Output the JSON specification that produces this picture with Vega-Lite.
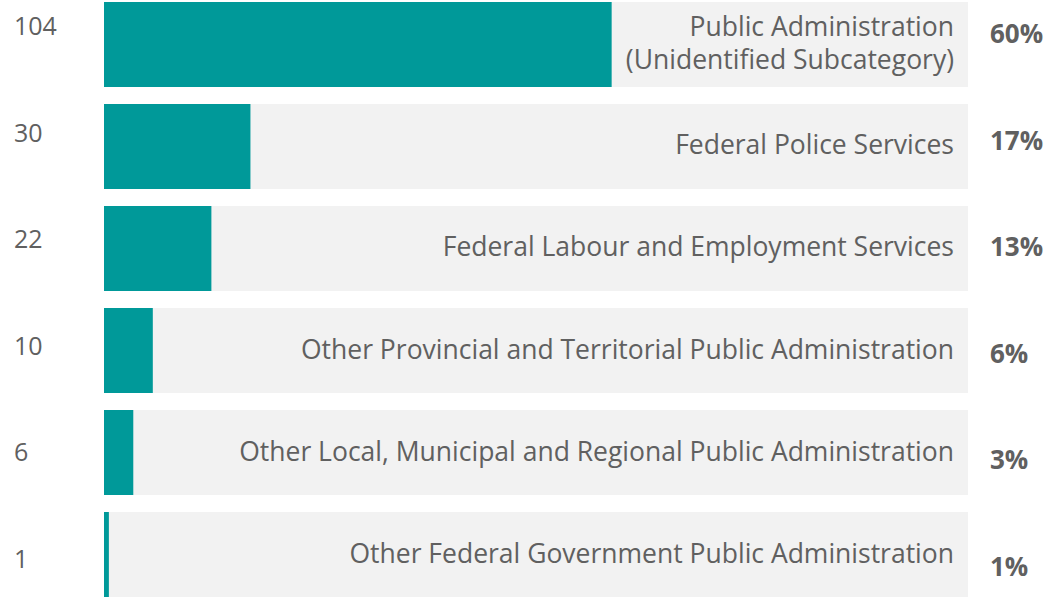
{
  "$schema": "https://vega.github.io/schema/vega-lite/v6.json",
  "width": 1060,
  "height": 601,
  "autosize": "none",
  "padding": 0,
  "background": "white",
  "config": {"view": {"stroke": null}, "font": "Open Sans"},
  "data": {
    "values": [
      {"category": "Public Administration\n(Unidentified Subcategory)", "count": 104, "pct": "60%", "lines": 2},
      {"category": "Federal Police Services", "count": 30, "pct": "17%", "lines": 1},
      {"category": "Federal Labour and Employment Services", "count": 22, "pct": "13%", "lines": 1},
      {"category": "Other Provincial and Territorial Public Administration", "count": 10, "pct": "6%", "lines": 1},
      {"category": "Other Local, Municipal and Regional Public Administration", "count": 6, "pct": "3%", "lines": 1},
      {"category": "Other Federal Government Public Administration", "count": 1, "pct": "1%", "lines": 1}
    ]
  },
  "resolve": {"scale": {"y": "independent"}, "axis": {"y": "independent"}},
  "layer": [
    {
      "mark": {"type": "bar", "color": "#f2f2f2"},
      "encoding": {
        "y": {"field": "category", "type": "nominal", "sort": null, "axis": null,
              "scale": {"type": "band", "range": [2, 597], "paddingInner": 0.1667, "paddingOuter": 0}},
        "x": {"datum": 177, "type": "quantitative", "axis": null,
              "scale": {"domain": [0, 177], "range": [104, 968], "nice": false, "zero": true}}
      }
    },
    {
      "mark": {"type": "bar", "color": "#009999"},
      "encoding": {
        "y": {"field": "category", "type": "nominal", "sort": null, "axis": null,
              "scale": {"type": "band", "range": [2, 597], "paddingInner": 0.1667, "paddingOuter": 0}},
        "x": {"field": "count", "type": "quantitative", "axis": null}
      }
    },
    {
      "transform": [{"filter": "datum.lines == 1"}],
      "mark": {"type": "text", "align": "right", "baseline": "middle", "dx": -14, "fontSize": 26.5, "color": "#606060"},
      "encoding": {
        "y": {"field": "category", "type": "nominal", "sort": null, "axis": null,
              "scale": {"type": "band", "range": [2, 597], "paddingInner": 0.1667, "paddingOuter": 0,
                        "domain": ["Public Administration\n(Unidentified Subcategory)", "Federal Police Services", "Federal Labour and Employment Services", "Other Provincial and Territorial Public Administration", "Other Local, Municipal and Regional Public Administration", "Other Federal Government Public Administration"]}},
        "x": {"datum": 177, "type": "quantitative"},
        "text": {"field": "category"}
      }
    },
    {
      "transform": [{"filter": "datum.lines == 2"}],
      "mark": {"type": "text", "align": "right", "baseline": "middle", "dx": -14, "dy": -16.5, "fontSize": 26.5, "color": "#606060", "lineBreak": "\n", "lineHeight": 33},
      "encoding": {
        "y": {"field": "category", "type": "nominal", "sort": null, "axis": null,
              "scale": {"type": "band", "domain": ["Public Administration\n(Unidentified Subcategory)"], "range": [2, 87], "paddingInner": 0, "paddingOuter": 0}},
        "x": {"datum": 177, "type": "quantitative"},
        "text": {"field": "category"}
      }
    },
    {
      "mark": {"type": "text", "align": "left", "baseline": "middle", "dx": -90, "fontSize": 25, "color": "#606060"},
      "encoding": {
        "y": {"field": "category", "type": "nominal", "sort": null, "axis": null,
              "scale": {"type": "point", "range": [27, 560], "padding": 0}},
        "x": {"datum": 0, "type": "quantitative"},
        "text": {"field": "count"}
      }
    },
    {
      "mark": {"type": "text", "align": "left", "baseline": "middle", "dx": 22, "fontSize": 26, "fontWeight": "bold", "color": "#606060"},
      "encoding": {
        "y": {"field": "category", "type": "nominal", "sort": null, "axis": null,
              "scale": {"type": "point", "range": [35, 568], "padding": 0}},
        "x": {"datum": 177, "type": "quantitative"},
        "text": {"field": "pct"}
      }
    }
  ]
}
